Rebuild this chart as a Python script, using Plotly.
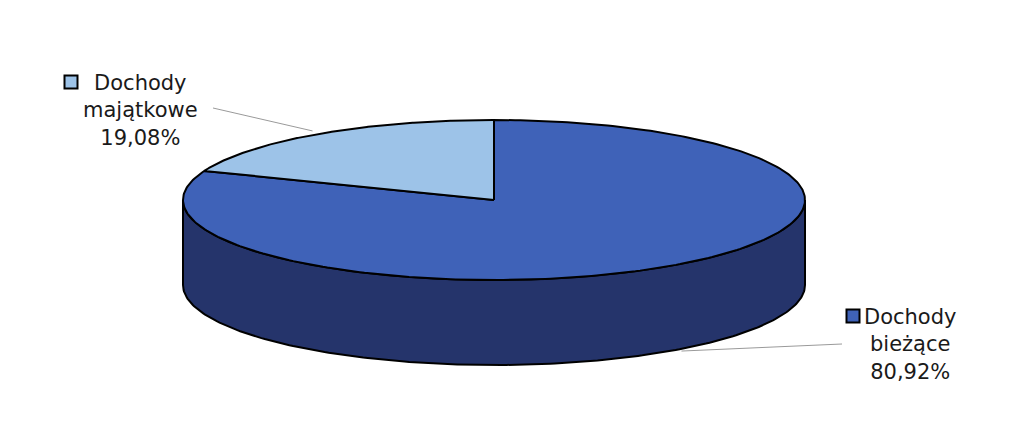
import numpy as np
import plotly.graph_objects as go

# ---- data ----
labels = ["Dochody<br>bieżące", "Dochody<br>majątkowe"]
values = [80.92, 19.08]
top_colors = ["#3F62B8", "#9DC3E8"]
side_colors = ["#25346B", "#5E86B8"]

# ---- geometry (pixel space) ----
W, H = 1024, 442
OFF = 8  # page body margin
cx, cy, rx, ry, depth = 494, 200, 311, 80, 85
start = 90.0

def pt(theta, dy=0.0):
    t = np.radians(theta)
    return cx + rx * np.cos(t), cy - ry * np.sin(t) + dy

fig = go.Figure()
total = sum(values)
angles = []
a = start
for v in values:
    sweep = v / total * 360.0
    angles.append((a - sweep, a))  # clockwise
    a -= sweep

# side walls (front half only)
for (a0, a1), sc in zip(angles, side_colors):
    lo, hi = a0, a1
    segs = []
    for shift in (-360, 0, 360):
        s0, s1 = max(lo + shift, -180), min(hi + shift, 0)
        if s1 > s0:
            segs.append((s0, s1))
    for s0, s1 in segs:
        th = np.linspace(s0, s1, 200)
        xt, yt = pt(th)
        xb, yb = pt(th[::-1], depth)
        xs = np.concatenate([xt, xb, xt[:1]])
        ys = np.concatenate([yt, yb, yt[:1]])
        fig.add_trace(go.Scatter(x=xs, y=ys, mode="lines", fill="toself",
                                 fillcolor=sc, line=dict(color="black", width=2),
                                 hoverinfo="skip", showlegend=False))

# top faces
for (a0, a1), tc in zip(angles, top_colors):
    th = np.linspace(a0, a1, 300)
    x, y = pt(th)
    xs = np.concatenate([[cx], x, [cx]])
    ys = np.concatenate([[cy], y, [cy]])
    fig.add_trace(go.Scatter(x=xs, y=ys, mode="lines", fill="toself",
                             fillcolor=tc, line=dict(color="black", width=2),
                             hoverinfo="skip", showlegend=False))

# labels
label_pos = [(910, 344), (140, 110)]
key_pos = [(853, 316), (71, 82)]
line_start = [(842, 344), (213, 108)]
font = dict(family="DejaVu Sans", size=21, color="#1a1a1a")
for i, (lab, v) in enumerate(zip(labels, values)):
    pct = f"{v / total * 100:.2f}".replace(".", ",") + "%"
    lx, ly = label_pos[i]
    fig.add_annotation(x=lx, y=ly, text=lab + "<br>" + pct, showarrow=False,
                       font=font, xanchor="center", yanchor="middle", align="center")
    kx, ky = key_pos[i]
    fig.add_trace(go.Scatter(x=[kx], y=[ky], mode="markers",
                             marker=dict(symbol="square", size=13, color=top_colors[i],
                                         line=dict(color="black", width=2)),
                             hoverinfo="skip", showlegend=False))
    a0, a1 = angles[i]
    mid = (a0 + a1) / 2
    if np.sin(np.radians(mid)) > 0:
        ex, ey = pt(mid)
        ex, ey = ex - 6, ey - 3
    else:
        ex, ey = pt(mid, depth)
        ex, ey = ex + 12, ey
    sx, sy = line_start[i]
    fig.add_trace(go.Scatter(x=[sx, ex], y=[sy, ey], mode="lines",
                             line=dict(color="#9a9a9a", width=1),
                             hoverinfo="skip", showlegend=False))

fig.update_layout(
    width=W, height=H, margin=dict(l=0, r=0, t=0, b=0),
    paper_bgcolor="white", plot_bgcolor="white",
    xaxis=dict(range=[OFF, W + OFF], visible=False, fixedrange=True),
    yaxis=dict(range=[H + OFF, OFF], visible=False, fixedrange=True),
    showlegend=False,
)
fig.write_html("out.html")
